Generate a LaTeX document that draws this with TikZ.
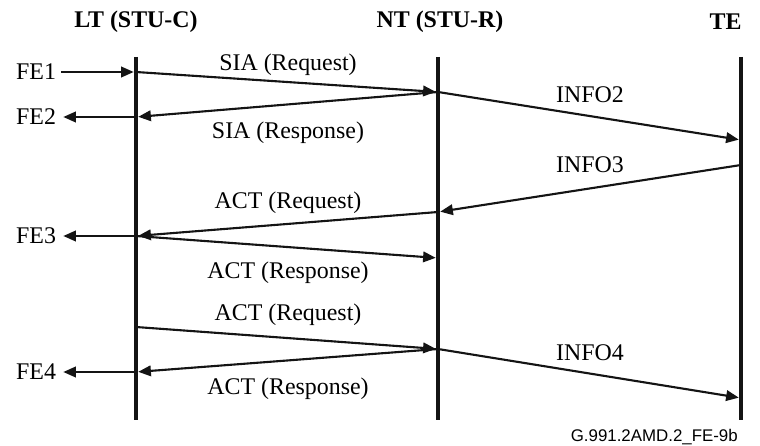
\documentclass[tikz,border=0pt]{standalone}
\usepackage{fontspec}
\setmainfont{Liberation Serif}
\newfontfamily\codefont{Liberation Sans}
\usetikzlibrary{arrows.meta}

\begin{document}
\begin{tikzpicture}[
  life/.style={line width=3.3pt,black!92},
  msg/.style={-{Triangle[length=9pt,width=7.5pt]},line width=1.5pt,black!92,shorten >=1.6pt},
  hd/.style={font=\fontsize{17}{20}\selectfont\bfseries,inner sep=0pt},
  lbl/.style={font=\fontsize{17}{20}\selectfont,inner sep=0pt},
  fe/.style={font=\fontsize{17}{20}\selectfont,anchor=east}]
\useasboundingbox (0,0) rectangle (19,-11.15);
% lifelines
\coordinate (ltA) at (3.4,-1.425);   \coordinate (ltB) at (3.4,-10.5);
\coordinate (ntA) at (10.95,-1.425); \coordinate (ntB) at (10.95,-10.5);
\coordinate (teA) at (18.525,-1.425);\coordinate (teB) at (18.525,-10.5);
\node[hd] (hlt) at (3.4,-0.55) {LT (STU-C)};
\node[hd] (hnt) at (11.0,-0.55) {NT (STU-R)};
\node[hd] (hte) at (18.14,-0.55) {TE};
\draw[life] (ltA)--(ltB); \draw[life] (ntA)--(ntB); \draw[life] (teA)--(teB);
% points on the lifelines
\coordinate (lt1) at (3.4,-1.8);   \coordinate (lt2) at (3.4,-2.925);
\coordinate (lt3) at (3.4,-5.9);   \coordinate (lt4) at (3.4,-8.175);
\coordinate (lt5) at (3.4,-9.3);
\coordinate (nt1) at (10.95,-2.3); \coordinate (nt2) at (10.95,-5.3);
\coordinate (nt3) at (10.95,-6.45);\coordinate (nt4) at (10.95,-8.725);
\coordinate (te1) at (18.525,-3.5);\coordinate (te2) at (18.525,-4.125);
\coordinate (te3) at (18.525,-9.95);
% FE events
\node[fe] (fe1) at (1.525,-1.8) {FE1};
\node[fe] (fe2) at (1.525,-2.925) {FE2};
\node[fe] (fe3) at (1.525,-5.9) {FE3};
\node[fe] (fe4) at (1.525,-9.3) {FE4};
% messages
\draw[msg] (fe1)--(lt1); \draw[msg] (lt2)--(fe2);
\draw[msg] (lt3)--(fe3); \draw[msg] (lt5)--(fe4);
\draw[msg] (lt1)--(nt1); \draw[msg] (nt1)--(lt2); \draw[msg] (nt1)--(te1);
\draw[msg] (te2)--(nt2); \draw[msg] (nt2)--(lt3); \draw[msg] (lt3)--(nt3);
\draw[msg] (lt4)--(nt4); \draw[msg] (nt4)--(te3); \draw[msg] (nt4)--(lt5);
\node[lbl] (m1) at (7.2,-1.625) {SIA (Request)};
\node[lbl] (m2) at (7.2,-3.325) {SIA (Response)};
\node[lbl] (m3) at (14.75,-2.375) {INFO2};
\node[lbl] (m4) at (14.75,-4.125) {INFO3};
\node[lbl] (m5) at (7.2,-5.06) {ACT (Request)};
\node[lbl] (m6) at (7.2,-6.81) {ACT (Response)};
\node[lbl] (m7) at (7.2,-7.875) {ACT (Request)};
\node[lbl] (m8) at (14.75,-8.81) {INFO4};
\node[lbl] (m9) at (7.2,-9.725) {ACT (Response)};
\node[anchor=base east,inner sep=0pt,font=\codefont\fontsize{12}{14}\selectfont] (code) at (18.45,-11.03) {G.991.2AMD.2\_FE-9b};
\end{tikzpicture}
\end{document}
